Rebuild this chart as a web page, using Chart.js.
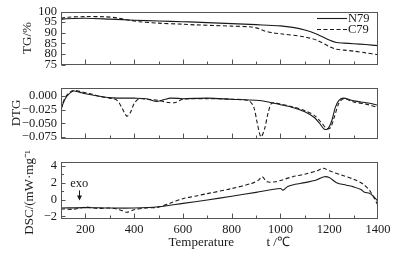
<!DOCTYPE html>
<html><head><meta charset="utf-8">
<script src="https://cdn.jsdelivr.net/npm/chart.js@4"></script>
<style>
html,body{margin:0;padding:0;background:#fff;}
#wrap{position:relative;width:396px;height:255px;overflow:hidden;background:#fff;}
canvas{position:absolute;left:0;}
</style></head><body>
<div id="wrap">
<canvas id="c1" width="396" height="76" style="top:0px"></canvas>
<canvas id="c2" width="396" height="74" style="top:76px"></canvas>
<canvas id="c3" width="396" height="105" style="top:150px"></canvas>
</div>
<script>
// ---------- data ----------
const seriesNames = ['N79', 'C79'];
const xTickValues = [200, 400, 600, 800, 1000, 1200, 1400];

const tgN79T = [100,120,200,300,400,500,600,650,800,900,950,1000,1050,1100,1150,1200,1230,1260,1300,1350,1400];
const tgN79V = [96.3,96.6,96.8,96.4,95.9,95.5,95.2,95.0,94.3,93.8,93.5,93.2,92.5,91.3,89.3,86.6,85.4,85.1,84.8,84.4,83.9];
const tgC79T = [100,130,200,280,330,380,420,500,600,650,800,880,910,935,970,1000,1100,1150,1200,1230,1260,1300,1350,1400];
const tgC79V = [96.8,97.3,97.6,97.5,97.0,95.9,95.2,94.5,94.0,93.7,93.1,92.7,92.0,90.8,89.9,89.5,88.0,86.4,83.5,82.2,81.8,81.3,80.5,79.6];
const tgTicks = [75, 80, 85, 90, 95, 100];

const dtgN79T = [100,110,125,150,175,200,250,300,350,400,450,490,520,550,600,700,800,900,950,1000,1050,1100,1140,1160,1180,1195,1210,1225,1240,1260,1300,1330,1360,1400];
const dtgN79V = [-0.026,-0.012,0.0,0.009,0.007,0.004,0.0,-0.003,-0.004,-0.004,-0.005,-0.010,-0.007,-0.004,-0.005,-0.004,-0.006,-0.008,-0.011,-0.016,-0.021,-0.029,-0.040,-0.050,-0.061,-0.060,-0.046,-0.021,-0.008,-0.004,-0.009,-0.011,-0.013,-0.017];
const dtgC79T = [100,110,125,150,180,220,270,300,330,350,370,385,400,420,450,500,540,570,600,700,800,870,890,905,920,935,950,965,1000,1050,1100,1140,1170,1190,1205,1220,1240,1260,1300,1350,1400];
const dtgC79V = [-0.024,-0.010,0.002,0.010,0.008,0.004,-0.002,-0.004,-0.008,-0.022,-0.037,-0.030,-0.014,-0.005,-0.006,-0.008,-0.012,-0.012,-0.006,-0.005,-0.006,-0.009,-0.020,-0.050,-0.075,-0.060,-0.030,-0.013,-0.015,-0.020,-0.027,-0.036,-0.050,-0.060,-0.058,-0.040,-0.013,-0.005,-0.011,-0.015,-0.021];
const dtgTicks = [-0.075, -0.050, -0.025, 0.000];

const dscN79T = [100,200,300,400,500,600,700,800,900,1000,1010,1030,1060,1100,1150,1180,1200,1230,1270,1300,1330,1345,1365,1380,1400];
const dscN79V = [-1.0,-0.95,-1.0,-1.0,-0.85,-0.45,-0.05,0.4,0.85,1.3,1.1,1.55,1.8,2.0,2.35,2.7,2.6,2.0,1.7,1.5,1.2,0.85,0.75,0.4,-0.2];
const dscC79T = [100,150,200,250,300,340,370,400,450,500,550,600,650,700,800,880,910,925,945,980,1000,1050,1100,1150,1175,1200,1250,1300,1340,1370,1400];
const dscC79V = [-1.1,-1.15,-0.9,-1.05,-1.0,-1.2,-1.5,-1.2,-1.0,-0.9,-0.4,0.1,0.4,0.7,1.3,1.9,2.3,2.7,2.1,2.1,2.25,2.7,3.0,3.4,3.7,3.4,2.9,2.4,1.8,0.9,-0.7];
const dscTicks = [-2, 0, 2, 4];

// ---------- helpers ----------
const FONT = "'Liberation Serif','Times New Roman',serif";
Chart.defaults.font.family = FONT;
Chart.defaults.font.size = 12;
Chart.defaults.color = '#1a1a1a';
const INK = '#1a1a1a';

function pts(t, v) { return t.map((x, i) => ({x, y: v[i]})); }
function ds(label, t, v, dashed) {
  return { label, data: pts(t, v), borderColor: INK, borderWidth: 1.1,
    borderDash: dashed ? [4, 2.5] : [], pointRadius: 0, tension: 0.3, fill: false };
}

const frameTicks = {
  id: 'frameTicks',
  afterDatasetsDraw(chart, args, o) {
    const {ctx, chartArea: a, scales: {x, y}} = chart;
    ctx.save();
    ctx.strokeStyle = '#555';
    ctx.lineWidth = 1;
    const L = Math.round(a.left) + 0.5, R = Math.round(a.right) - 0.5;
    const T = Math.round(a.top) + 0.5, B = Math.round(a.bottom) - 0.5;
    ctx.strokeRect(L, T, R - L, B - T);
    ctx.beginPath();
    for (let t = 200; t < 1400; t += 100) {
      const px = Math.round(x.getPixelForValue(t)) + 0.5;
      const len = (t % 200 === 0) ? 5 : 3;
      ctx.moveTo(px, B); ctx.lineTo(px, B - len);
    }
    (o.yMajor || []).forEach(v => {
      const py = Math.round(y.getPixelForValue(v)) + 0.5;
      ctx.moveTo(L, py); ctx.lineTo(L + 4, py);
    });
    (o.yMinor || []).forEach(v => {
      const py = Math.round(y.getPixelForValue(v)) + 0.5;
      ctx.moveTo(L, py); ctx.lineTo(L + 2.5, py);
    });
    ctx.stroke();
    ctx.restore();
  }
};

const legendBox = {
  id: 'legendBox',
  afterDatasetsDraw(chart, args, o) {
    if (!o.show) return;
    const {ctx, chartArea: a} = chart;
    ctx.save();
    ctx.font = '12.5px ' + FONT;
    ctx.fillStyle = INK; ctx.strokeStyle = INK; ctx.lineWidth = 1.1;
    ctx.textBaseline = 'middle'; ctx.textAlign = 'left';
    chart.data.datasets.forEach((d, i) => {
      const yy = a.top + 7 + i * 11;
      ctx.setLineDash(d.borderDash || []);
      ctx.beginPath(); ctx.moveTo(a.right - 61, yy); ctx.lineTo(a.right - 31, yy); ctx.stroke();
      ctx.setLineDash([]);
      ctx.fillText(d.label, a.right - 30, yy + 0.5);
    });
    ctx.restore();
  }
};

const exoMark = {
  id: 'exoMark',
  afterDatasetsDraw(chart, args, o) {
    if (!o.show) return;
    const {ctx, scales: {x, y}} = chart;
    const px = x.getPixelForValue(175), py = y.getPixelForValue(1.9);
    ctx.save();
    ctx.font = '12.5px ' + FONT;
    ctx.fillStyle = INK; ctx.strokeStyle = INK; ctx.lineWidth = 1;
    ctx.textAlign = 'center'; ctx.textBaseline = 'middle';
    ctx.fillText('exo', px, py);
    const ax = Math.round(px) + 0.5;
    ctx.beginPath(); ctx.moveTo(ax, py + 7); ctx.lineTo(ax, py + 16); ctx.stroke();
    ctx.beginPath(); ctx.moveTo(ax - 2.5, py + 12); ctx.lineTo(ax, py + 17); ctx.lineTo(ax + 2.5, py + 12); ctx.closePath(); ctx.fill();
    ctx.restore();
  }
};

function fmtDTG(v) { return Number(v).toFixed(3).replace('-', '\u2212'); }
function fmtInt(v) { return String(v).replace('-', '\u2212'); }

function makeChart(id, datasets, yOpt, showX, extra) {
  return new Chart(document.getElementById(id), {
    type: 'line',
    data: { datasets },
    plugins: [frameTicks, legendBox, exoMark],
    options: {
      responsive: false, animation: false, events: [],
      layout: { padding: extra.padding },
      plugins: {
        legend: { display: false }, tooltip: { enabled: false },
        frameTicks: { yMajor: yOpt.ticks, yMinor: yOpt.minor || [] },
        legendBox: { show: !!extra.legend },
        exoMark: { show: !!extra.exo }
      },
      scales: {
        x: {
          type: 'linear', min: 100, max: 1400, display: showX,
          grid: { display: false, drawTicks: false }, border: { display: false },
          afterBuildTicks: s => { s.ticks = xTickValues.map(v => ({value: v})); },
          ticks: { padding: 3, maxRotation: 0, autoSkip: false, font: { size: 12.5 }, callback: v => String(v) },
          title: { display: showX, text: '      Temperature          t /\u2103', padding: { top: 0, bottom: 5 }, font: { size: 13 } },
          afterFit: s => { if (showX) s.height = 36; }
        },
        y: {
          type: 'linear', min: yOpt.min, max: yOpt.max,
          grid: { display: false, drawTicks: false }, border: { display: false },
          afterBuildTicks: s => { s.ticks = yOpt.ticks.map(v => ({value: v})); },
          ticks: { padding: 4, autoSkip: false, font: { size: 12.5 }, callback: yOpt.fmt },
          title: { display: true, text: yOpt.title, padding: { top: yOpt.tpad, bottom: 0 }, font: { size: 13 } },
          afterFit: s => { s.width = 61; }
        }
      }
    }
  });
}

makeChart('c1', [ds(seriesNames[0], tgN79T, tgN79V, false), ds(seriesNames[1], tgC79T, tgC79V, true)],
  { min: 75, max: 100, ticks: tgTicks, fmt: fmtInt, title: 'TG/%', tpad: 20 }, false,
  { padding: { top: 9, bottom: 7, left: 0, right: 18 }, legend: true });

makeChart('c2', [ds(seriesNames[0], dtgN79T, dtgN79V, false), ds(seriesNames[1], dtgC79T, dtgC79V, true)],
  { min: -0.078, max: 0.0155, ticks: dtgTicks, fmt: fmtDTG, title: 'DTG', tpad: 9 }, false,
  { padding: { top: 8, bottom: 7, left: 0, right: 18 } });

makeChart('c3', [ds(seriesNames[0], dscN79T, dscN79V, false), ds(seriesNames[1], dscC79T, dscC79V, true)],
  { min: -2.3, max: 4.5, ticks: dscTicks, minor: [-1, 1, 3], fmt: fmtInt, title: 'DSC/(mW\u00B7mg\u207B\u00B9)', tpad: 22 }, true,
  { padding: { top: 8, bottom: 0, left: 0, right: 18 }, exo: true });
</script>
</body></html>
